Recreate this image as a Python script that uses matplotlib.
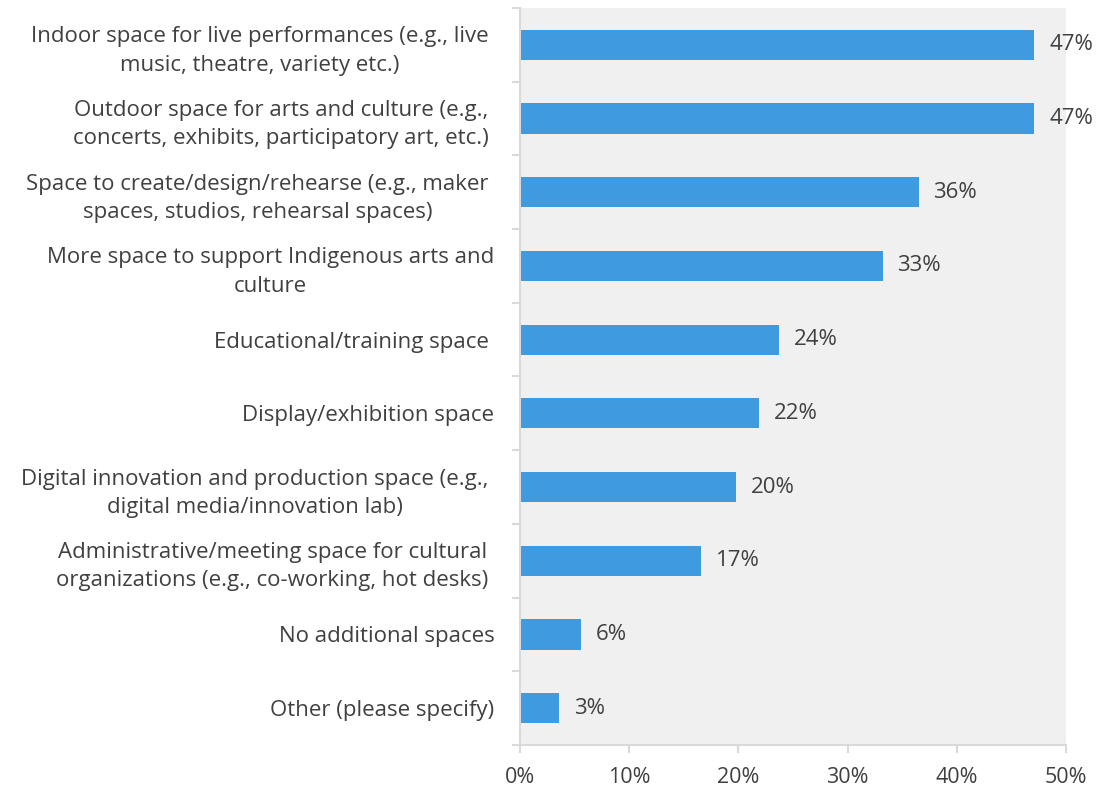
import matplotlib
matplotlib.use("Agg")
import matplotlib.pyplot as plt
from matplotlib.ticker import FixedLocator, NullFormatter

plt.rcParams['font.family'] = ['Open Sans', 'DejaVu Sans']

categories = [
    "Indoor space for live performances (e.g., live \nmusic, theatre, variety etc.) ",
    "Outdoor space for arts and culture (e.g., \nconcerts, exhibits, participatory art, etc.) ",
    "Space to create/design/rehearse (e.g., maker \nspaces, studios, rehearsal spaces) ",
    "More space to support Indigenous arts and\nculture",
    "Educational/training space ",
    "Display/exhibition space",
    "Digital innovation and production space (e.g., \ndigital media/innovation lab) ",
    "Administrative/meeting space for cultural \norganizations (e.g., co-working, hot desks) ",
    "No additional spaces",
    "Other (please specify)",
]
values = [47.1, 47.1, 36.5, 33.2, 23.7, 21.9, 19.8, 16.6, 5.6, 3.6]
labels = ["47%", "47%", "36%", "33%", "24%", "22%", "20%", "17%", "6%", "3%"]
xticks = [0, 10, 20, 30, 40, 50]
xticklabels = ["0%", "10%", "20%", "30%", "40%", "50%"]

W, H = 1098, 791
fig = plt.figure(figsize=(W / 100, H / 100), dpi=100)
ax = fig.add_axes([520 / W, 1 - 745 / H, (1066 - 520) / W, (745 - 8) / H])
ax.set_facecolor("#f0f0f0")

n = len(categories)
ypos = list(range(n))
ax.barh(ypos, values, height=0.41, color="#3f9ae0", zorder=2)
ax.set_ylim(n - 0.5, -0.5)
ax.set_xlim(0, 50)

txtcol = "#404040"
for y, v, lab in zip(ypos, values, labels):
    ax.text(v + 1.35, y, lab, va="center", ha="left", fontsize=16, color=txtcol)

# y axis: labels at centers, tick marks at boundaries
ax.set_yticks(ypos)
ax.set_yticklabels(categories, fontsize=16, color=txtcol, ha="right",
                   multialignment="center", linespacing=1.45)
ax.tick_params(axis="y", which="major", length=0, pad=18.5)
ax.yaxis.set_minor_locator(FixedLocator([i - 0.5 for i in range(n + 1)]))
ax.yaxis.set_minor_formatter(NullFormatter())
ax.tick_params(axis="y", which="minor", length=6, width=1.5, color="#d9d9d9")

ax.set_xticks(xticks)
ax.set_xticklabels(xticklabels, fontsize=15.5, color=txtcol)
ax.tick_params(axis="x", which="major", length=6, width=1.5, color="#d9d9d9", pad=10)

for s in ["top", "right"]:
    ax.spines[s].set_visible(False)
for s in ["left", "bottom"]:
    ax.spines[s].set_color("#d9d9d9")
    ax.spines[s].set_linewidth(1.5)

fig.savefig("out.png", dpi=100, facecolor="white")
